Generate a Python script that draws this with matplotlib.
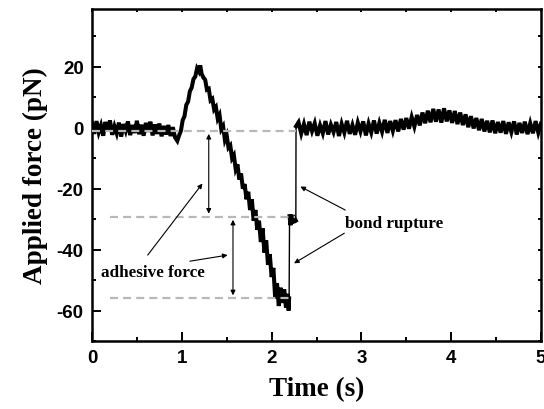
import matplotlib
matplotlib.use("Agg")
import matplotlib.pyplot as plt
from matplotlib.ticker import MultipleLocator

plt.rcParams["axes.unicode_minus"] = False

# ---------------- data (time in s, force in pN) ----------------
pre_contact = [
    (0.000, 1.5), (0.025, -2.0), (0.050, 2.2), (0.075, -1.5), (0.100, 0.8),
    (0.125, -2.6), (0.150, 1.9), (0.175, -1.2), (0.200, 2.4), (0.225, -2.3),
    (0.250, 0.5), (0.275, -1.8), (0.300, 1.7), (0.325, -2.9), (0.350, 1.2),
    (0.375, -1.0), (0.400, 2.1), (0.425, -2.4), (0.450, 0.9), (0.475, -1.7),
    (0.500, 2.3), (0.525, -2.1), (0.550, 1.0), (0.575, -2.6), (0.600, 1.6),
    (0.625, -1.3), (0.650, 2.0), (0.675, -2.5), (0.700, 1.1), (0.725, -2.0),
    (0.750, 1.4), (0.775, -2.8), (0.800, 0.6), (0.825, -2.2), (0.850, 0.9),
    (0.875, -2.7), (0.900, 0.2), (0.925, -3.2), (0.950, -4.3),
]
approach = [
    (0.970, -2.5), (0.990, -1.0), (1.010, 2.5), (1.030, 3.8), (1.050, 7.5),
    (1.070, 8.6), (1.090, 12.0), (1.110, 13.2), (1.130, 16.0), (1.150, 16.8),
    (1.170, 19.5), (1.190, 18.5), (1.205, 20.5), (1.220, 17.8),
]
retraction = [
    (1.24, 16.5), (1.26, 15.8), (1.28, 12.5), (1.30, 12.8), (1.32, 9.0),
    (1.34, 9.5), (1.36, 6.0), (1.38, 6.8), (1.40, 3.0), (1.42, 4.2),
    (1.44, -0.5), (1.46, 0.5), (1.48, -4.0), (1.50, -2.5), (1.52, -6.5),
    (1.54, -5.8), (1.56, -10.0), (1.58, -9.0), (1.60, -13.5), (1.62, -12.0),
    (1.64, -17.0), (1.66, -15.0), (1.68, -20.0), (1.70, -18.5), (1.72, -23.5),
    (1.74, -21.0), (1.76, -27.0), (1.78, -23.5), (1.80, -30.5), (1.82, -27.0),
    (1.84, -33.5), (1.86, -30.5), (1.88, -37.5), (1.90, -33.0), (1.92, -41.0),
    (1.94, -37.0), (1.96, -45.0), (1.98, -41.5), (2.00, -49.0), (2.02, -46.0),
    (2.04, -56.0), (2.06, -51.0), (2.08, -58.5), (2.10, -52.5), (2.12, -57.5),
    (2.14, -53.0), (2.16, -59.0), (2.18, -54.5), (2.19, -60.0), (2.195, -56.0),
]
rupture = [
    (2.200, -29.0), (2.210, -32.0), (2.220, -28.5), (2.230, -31.5),
    (2.240, -29.5), (2.250, -31.0), (2.260, -30.0), (2.270, -30.5),
]
post_rupture = [
    (2.272, 0.5), (2.30, 1.8), (2.33, -1.9), (2.36, 1.2), (2.39, -2.4),
    (2.42, 2.0), (2.45, -1.1), (2.48, 1.5), (2.51, -2.6), (2.54, 0.8),
    (2.57, -1.8), (2.60, 2.2), (2.63, -2.2), (2.66, 1.0), (2.69, -1.4),
    (2.72, 1.9), (2.75, -2.7), (2.78, 1.3), (2.81, -1.6), (2.84, 2.3),
    (2.87, -2.0), (2.90, 0.9), (2.93, -2.3), (2.96, 1.7), (2.99, -1.2),
    (3.02, 2.1), (3.05, -2.5), (3.08, 1.4), (3.11, -1.5), (3.14, 2.4),
    (3.17, -1.9), (3.20, 1.6), (3.23, -1.3), (3.26, 2.6), (3.29, -1.7),
    (3.32, 2.2), (3.35, -1.0), (3.38, 2.5), (3.41, -1.2), (3.44, 2.9),
    (3.47, -0.6), (3.50, 3.2), (3.53, -0.3), (3.56, 3.5), (3.59, 0.4),
    (3.62, 4.2), (3.65, 0.8), (3.68, 5.0), (3.71, 1.5), (3.74, 5.6),
    (3.77, 1.8), (3.80, 6.2), (3.83, 2.0), (3.86, 6.0), (3.89, 1.7),
    (3.92, 6.4), (3.95, 2.1), (3.98, 5.7), (4.01, 1.6), (4.04, 5.5),
    (4.07, 1.2), (4.10, 5.0), (4.13, 0.9), (4.16, 4.4), (4.19, 0.2),
    (4.22, 3.8), (4.25, -0.2), (4.28, 3.2), (4.31, -0.8), (4.34, 2.9),
    (4.37, -1.2), (4.40, 2.3), (4.43, -1.5), (4.46, 2.4), (4.49, -1.8),
    (4.52, 1.9), (4.55, -1.6), (4.58, 2.2), (4.61, -2.0), (4.64, 1.8),
    (4.67, -1.4), (4.70, 2.1), (4.73, -2.2), (4.76, 1.6), (4.79, -1.7),
    (4.82, 2.0), (4.85, -2.1), (4.88, 1.5), (4.91, -1.8), (4.94, 2.2),
    (4.97, -1.6), (5.00, 1.4),
]

# reference levels: (force, t_start, t_end)
ref_levels = [(-1.0, 0.0, 2.27), (-29.2, 0.2, 2.26), (-55.8, 0.2, 2.21)]

x_ticks = [0, 1, 2, 3, 4, 5]
y_ticks = [20, 0, -20, -40, -60]
x_label = "Time (s)"
y_label = "Applied force (pN)"

# ---------------- plot ----------------
SANS = ["Liberation Sans", "DejaVu Sans"]
SERIF = ["Liberation Serif", "DejaVu Serif"]

fig = plt.figure(figsize=(5.44, 4.10), dpi=100)
ax = fig.add_axes([92 / 544, 1 - 342 / 410, (541 - 92) / 544, (342 - 10) / 410])

def xs(seg):
    return [p[0] for p in seg]

def ys(seg):
    return [p[1] for p in seg]

# noisy (thick) portions of the trace
for seg in (pre_contact + approach + retraction, rupture, post_rupture):
    ax.plot(xs(seg), ys(seg), color="black", lw=2.9, zorder=2,
            solid_joinstyle="miter")
# the sudden jumps at bond rupture (thin)
ax.plot([retraction[-1][0], rupture[0][0]], [retraction[-1][1], rupture[0][1]],
        color="black", lw=1.0, zorder=2)
ax.plot([rupture[-1][0], post_rupture[0][0]], [rupture[-1][1], post_rupture[0][1]],
        color="black", lw=1.0, zorder=2)

for level, t0, t1 in ref_levels:
    ax.plot([t0, t1], [level, level], color="#b8b8b8", lw=1.6,
            dashes=(3.6, 2.3), zorder=3)

arrow_kw = dict(color="black", lw=0.8, mutation_scale=7, shrinkA=0, shrinkB=0)

# double headed arrows
ax.annotate("", xy=(1.30, -28.2), xytext=(1.30, -2.0),
            arrowprops=dict(arrowstyle="<|-|>", **arrow_kw), zorder=4)
ax.annotate("", xy=(1.57, -55.0), xytext=(1.57, -30.2),
            arrowprops=dict(arrowstyle="<|-|>", **arrow_kw), zorder=4)

# labels with arrows
ax.annotate("", xy=(1.23, -18.3), xytext=(0.62, -41.8),
            arrowprops=dict(arrowstyle="-|>", **arrow_kw))
ax.annotate("", xy=(1.51, -41.8), xytext=(1.09, -43.8),
            arrowprops=dict(arrowstyle="-|>", **arrow_kw))
ax.text(0.68, -47.5, "adhesive force", family=SERIF, weight="bold",
        fontsize=12.3, ha="center", va="center")

ax.annotate("", xy=(2.32, -19.3), xytext=(2.82, -27.0),
            arrowprops=dict(arrowstyle="-|>", **arrow_kw))
ax.annotate("", xy=(2.25, -44.5), xytext=(2.81, -34.6),
            arrowprops=dict(arrowstyle="-|>", **arrow_kw))
ax.text(3.36, -31.3, "bond rupture", family=SERIF, weight="bold",
        fontsize=12.3, ha="center", va="center")

ax.set_xlim(0, 5)
ax.set_ylim(-70, 39)
ax.set_xticks(x_ticks)
ax.set_yticks(y_ticks)
ax.xaxis.set_minor_locator(MultipleLocator(0.5))
ax.yaxis.set_minor_locator(MultipleLocator(10))

for s in ax.spines.values():
    s.set_linewidth(1.8)

ax.tick_params(which="both", direction="in", top=True, right=True, width=1.4)
ax.tick_params(which="major", length=6.5, pad=6)
ax.tick_params(which="minor", length=3)
for tk in ax.xaxis.get_major_ticks() + ax.xaxis.get_minor_ticks():
    tk.tick2line.set_markersize(2)
for tk in ax.yaxis.get_major_ticks() + ax.yaxis.get_minor_ticks():
    tk.tick2line.set_markersize(2)

for lab in ax.get_xticklabels() + ax.get_yticklabels():
    lab.set_family(SANS)
    lab.set_fontweight("bold")
    lab.set_fontsize(13.5)

ax.set_xlabel(x_label, family=SERIF, weight="bold", fontsize=19.5, labelpad=7)
ax.set_ylabel(y_label, family=SERIF, weight="bold", fontsize=19.5, labelpad=6)

fig.savefig("out.png", dpi=100)
